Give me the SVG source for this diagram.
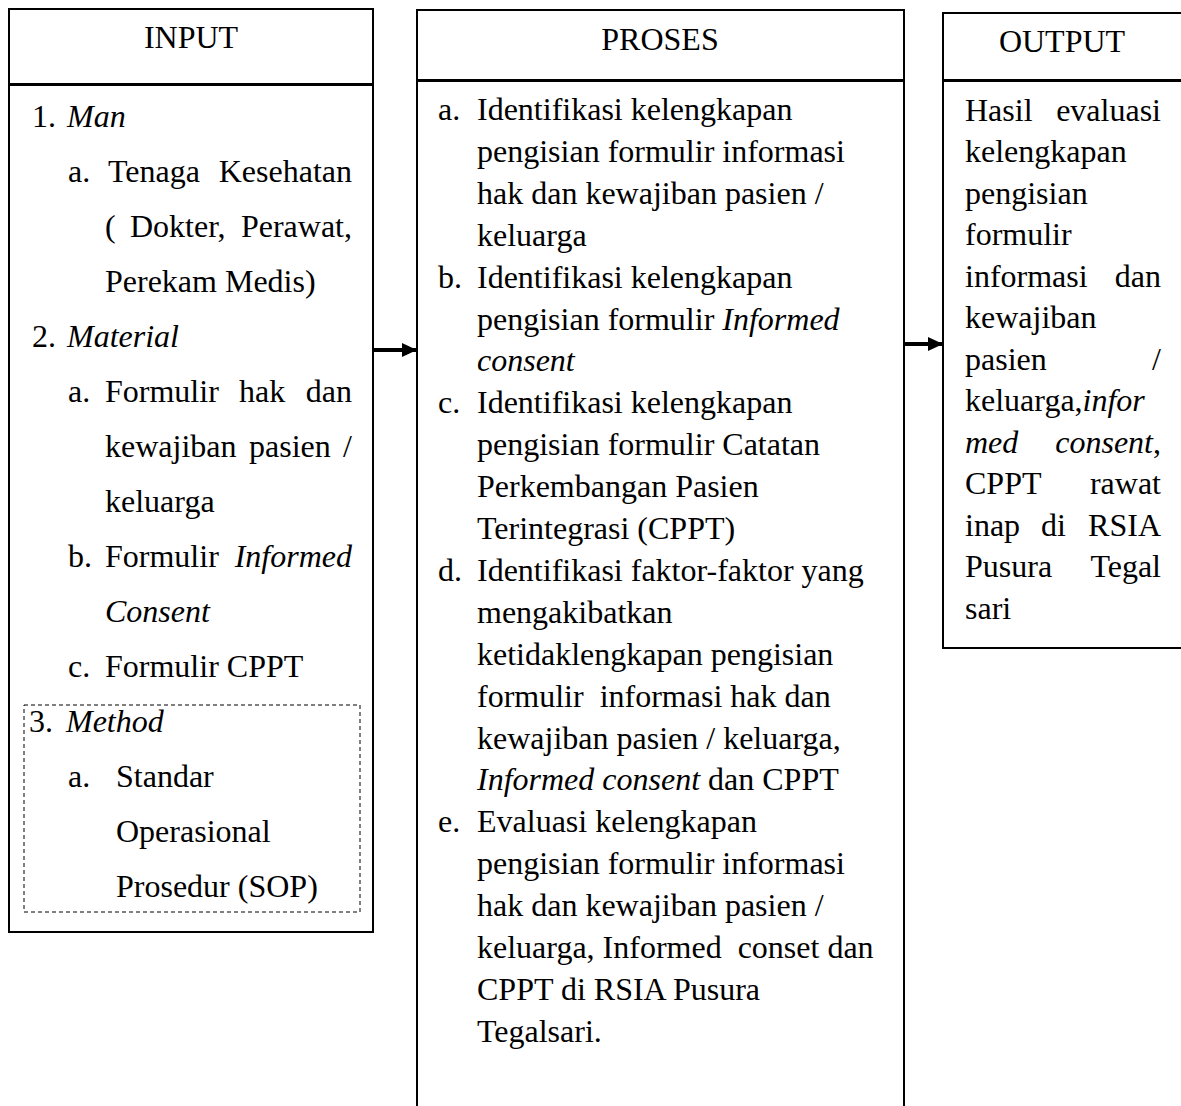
<svg xmlns="http://www.w3.org/2000/svg" width="1181" height="1106" viewBox="0 0 1181 1106">
<style>
.box{fill:#fff;stroke:#000;stroke-width:2}
.dash{fill:none;stroke:#000;stroke-width:1;stroke-dasharray:4 3}
text{font-family:"Liberation Serif","Times New Roman",serif;font-size:32px;fill:#000}
.i{font-style:italic}
.c{text-anchor:middle}
.e{text-anchor:end}
.conn{stroke:#000;stroke-width:4;fill:none}
</style>
<defs>
<marker id="ah" markerWidth="16" markerHeight="16" refX="15" refY="7" orient="auto" markerUnits="userSpaceOnUse"><path d="M0,0 L15,7 L0,14 Z" fill="#000"/></marker>
</defs>

<g id="input">
<rect class="box" x="9" y="9" width="364" height="75"/>
<rect class="box" x="9" y="85" width="364" height="847"/>
<rect class="dash" x="24" y="705" width="336" height="207"/>
<text class="c" x="191" y="48">INPUT</text>
<text x="32" y="127">1.</text><text class="i" x="67" y="127">Man</text>
<text x="68" y="182">a.</text><text x="108" y="182">Tenaga</text><text class="e" x="352" y="182">Kesehatan</text>
<text x="105" y="237">(</text><text x="130" y="237">Dokter,</text><text class="e" x="352" y="237">Perawat,</text>
<text x="105" y="292">Perekam Medis)</text>
<text x="32" y="347">2.</text><text class="i" x="67" y="347">Material</text>
<text x="68" y="402">a.</text><text x="105" y="402">Formulir</text><text x="239" y="402">hak</text><text class="e" x="352" y="402">dan</text>
<text x="105" y="457">kewajiban</text><text x="249" y="457">pasien</text><text class="e" x="352" y="457">/</text>
<text x="105" y="512">keluarga</text>
<text x="68" y="567">b.</text><text x="105" y="567">Formulir</text><text class="i e" x="352" y="567">Informed</text>
<text class="i" x="105" y="622">Consent</text>
<text x="68" y="677">c.</text><text x="105" y="677">Formulir CPPT</text>
<text x="29" y="732">3.</text><text class="i" x="66" y="732">Method</text>
<text x="68" y="787">a.</text><text x="116" y="787">Standar</text>
<text x="116" y="842">Operasional</text>
<text x="116" y="897">Prosedur (SOP)</text>
</g>

<g id="proses">
<rect class="box" x="417" y="10" width="487" height="70"/>
<rect class="box" x="417" y="81" width="487" height="1040"/>
<text class="c" x="660" y="50">PROSES</text>
<text x="438" y="120">a.</text><text x="477" y="120">Identifikasi kelengkapan</text>
<text x="477" y="162">pengisian formulir informasi</text>
<text x="477" y="204">hak dan kewajiban pasien /</text>
<text x="477" y="246">keluarga</text>
<text x="438" y="288">b.</text><text x="477" y="288">Identifikasi kelengkapan</text>
<text x="477" y="330">pengisian formulir <tspan class="i">Informed</tspan></text>
<text class="i" x="477" y="371">consent</text>
<text x="438" y="413">c.</text><text x="477" y="413">Identifikasi kelengkapan</text>
<text x="477" y="455">pengisian formulir Catatan</text>
<text x="477" y="497">Perkembangan Pasien</text>
<text x="477" y="539">Terintegrasi (CPPT)</text>
<text x="438" y="581">d.</text><text x="477" y="581">Identifikasi faktor-faktor yang</text>
<text x="477" y="623">mengakibatkan</text>
<text x="477" y="665">ketidaklengkapan pengisian</text>
<text x="477" y="707" xml:space="preserve">formulir  informasi hak dan</text>
<text x="477" y="749">kewajiban pasien / keluarga,</text>
<text x="477" y="790"><tspan class="i">Informed consent</tspan> dan CPPT</text>
<text x="438" y="832">e.</text><text x="477" y="832">Evaluasi kelengkapan</text>
<text x="477" y="874">pengisian formulir informasi</text>
<text x="477" y="916">hak dan kewajiban pasien /</text>
<text x="477" y="958" xml:space="preserve">keluarga, Informed  conset dan</text>
<text x="477" y="1000">CPPT di RSIA Pusura</text>
<text x="477" y="1042">Tegalsari.</text>
</g>

<g id="output">
<rect class="box" x="943" y="13" width="250" height="67"/>
<rect class="box" x="943" y="81" width="250" height="567"/>
<text class="c" x="1062" y="52">OUTPUT</text>
<text x="965" y="121">Hasil</text><text class="e" x="1161" y="121">evaluasi</text>
<text x="965" y="162">kelengkapan</text>
<text x="965" y="204">pengisian</text>
<text x="965" y="245">formulir</text>
<text x="965" y="287">informasi</text><text class="e" x="1161" y="287">dan</text>
<text x="965" y="328">kewajiban</text>
<text x="965" y="370">pasien</text><text class="e" x="1161" y="370">/</text>
<text x="965" y="411">keluarga,<tspan class="i">infor</tspan></text>
<text class="i" x="965" y="453">med</text><text class="e" x="1161" y="453"><tspan class="i">consent</tspan>,</text>
<text x="965" y="494">CPPT</text><text class="e" x="1161" y="494">rawat</text>
<text x="965" y="536">inap</text><text x="1041" y="536">di</text><text class="e" x="1161" y="536">RSIA</text>
<text x="965" y="577">Pusura</text><text class="e" x="1161" y="577">Tegal</text>
<text x="965" y="619">sari</text>
</g>

<g id="connectors">
<line class="conn" x1="374" y1="350" x2="417" y2="350" marker-end="url(#ah)"/>
<line class="conn" x1="905" y1="344" x2="943" y2="344" marker-end="url(#ah)"/>
</g>
</svg>
